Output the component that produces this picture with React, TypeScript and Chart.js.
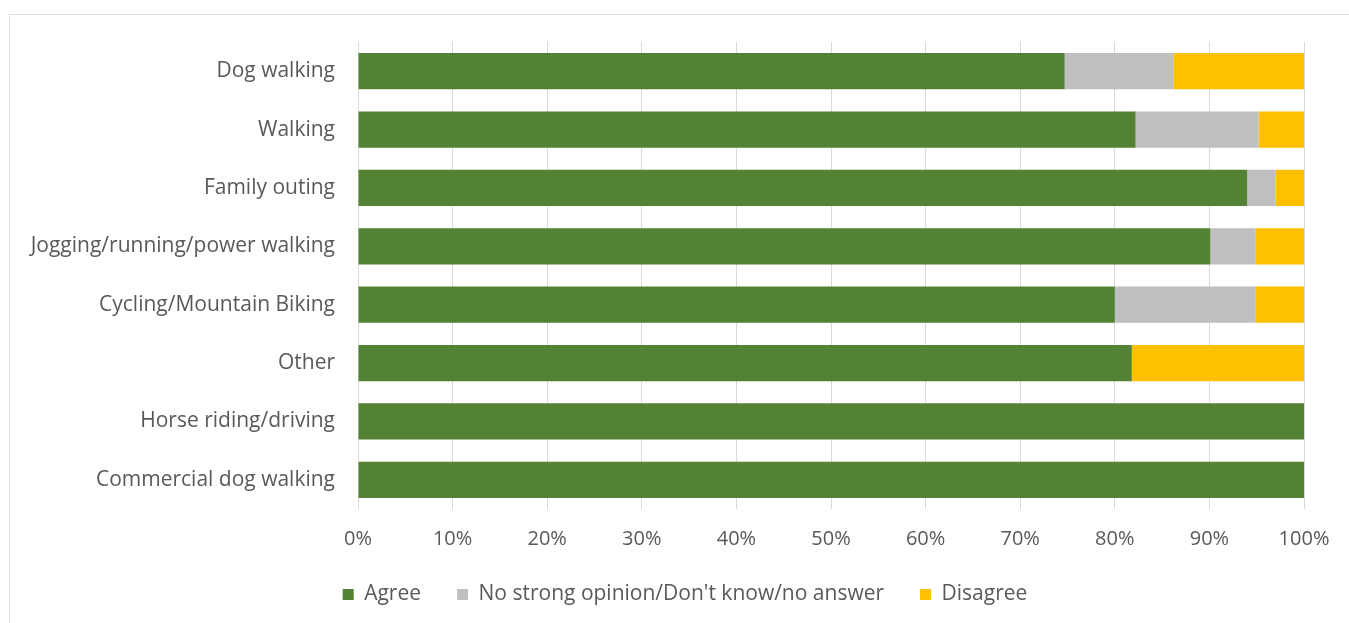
import React, { useEffect, useRef } from "react";
import { Chart, registerables } from "chart.js";

Chart.register(...registerables);

const categories = [
  "Dog walking",
  "Walking",
  "Family outing",
  "Jogging/running/power walking",
  "Cycling/Mountain Biking",
  "Other",
  "Horse riding/driving",
  "Commercial dog walking",
];

const agree = [74.7, 82.2, 94.0, 90.1, 80.0, 81.8, 100, 100];
const noOpinion = [11.5, 13.0, 3.0, 4.8, 14.9, 0, 0, 0];
const disagree = [13.8, 4.8, 3.0, 5.1, 5.1, 18.2, 0, 0];

const xTicks = [0, 10, 20, 30, 40, 50, 60, 70, 80, 90, 100];

const FONT = "'Open Sans', 'Liberation Sans', sans-serif";
const TEXT = "#595959";

// Keeps the legend compact in the layout, then places it under the plot.
const legendPlacement = {
  id: "legendPlacement",
  beforeLayout(chart: any) {
    const lg = chart.legend;
    if (lg && !lg._fixedFit) {
      const fit = lg.fit.bind(lg);
      lg.fit = function () {
        fit();
        this.height = 50;
      };
      lg._fixedFit = true;
    }
  },
  afterLayout(chart: any) {
    const lg = chart.legend;
    if (!lg) return;
    lg.top = 533;
    lg.height = 75;
    lg.bottom = lg.top + lg.height;
    lg.left += 28;
    lg.right += 28;
  },
};

export default function App() {
  const ref = useRef<HTMLCanvasElement | null>(null);

  useEffect(() => {
    if (!ref.current) return;
    const chart = new Chart(ref.current, {
      type: "bar",
      data: {
        labels: categories,
        datasets: [
          { label: "Agree", data: agree, backgroundColor: "#548235" },
          { label: "No strong opinion/Don't know/no answer", data: noOpinion, backgroundColor: "#bfbfbf" },
          { label: "Disagree", data: disagree, backgroundColor: "#ffc000" },
        ],
      },
      plugins: [legendPlacement],
      options: {
        indexAxis: "y",
        animation: false,
        responsive: false,
        maintainAspectRatio: false,
        datasets: { bar: { categoryPercentage: 1, barPercentage: 0.62, borderWidth: 0 } },
        layout: { padding: { top: 27, right: 45, bottom: 0, left: 0 } },
        scales: {
          x: {
            stacked: true,
            min: 0,
            max: 100,
            afterBuildTicks: (axis: any) => {
              axis.ticks = xTicks.map((v) => ({ value: v }));
            },
            afterFit: (axis: any) => {
              axis.height = 64;
            },
            grid: { color: "#d9d9d9", drawTicks: false },
            border: { display: false },
            ticks: {
              padding: 18,
              color: TEXT,
              font: { family: FONT, size: 20 },
              callback: (v: any) => v + "%",
            },
          },
          y: {
            stacked: true,
            afterFit: (axis: any) => {
              axis.width = 348;
            },
            grid: {
              display: true,
              drawOnChartArea: false,
              drawTicks: true,
              tickLength: 23,
              tickColor: "rgba(0,0,0,0)",
              color: "rgba(0,0,0,0)",
            },
            border: { display: false },
            ticks: { padding: 0, color: TEXT, font: { family: FONT, size: 21 } },
          },
        },
        plugins: {
          legend: {
            position: "bottom",
            labels: {
              boxWidth: 11,
              boxHeight: 11,
              padding: 36,
              color: TEXT,
              font: { family: FONT, size: 21 },
            },
          },
          tooltip: { enabled: false },
        },
      },
    });
    return () => chart.destroy();
  }, []);

  return (
    <div
      style={{
        position: "absolute",
        left: 9,
        top: 14,
        width: 1340,
        height: 609,
        borderTop: "1px solid #dcdcdc",
        borderLeft: "1px solid #dcdcdc",
        background: "#fff",
      }}
    >
      <canvas ref={ref} width={1339} height={608} style={{ display: "block" }} />
    </div>
  );
}
